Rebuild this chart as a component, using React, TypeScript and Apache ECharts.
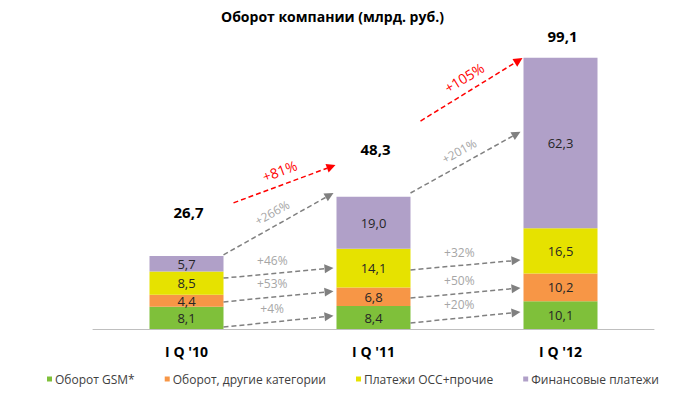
import React, { useEffect, useRef } from "react";
import * as echarts from "echarts";

const categories = ["I Q '10", "I Q '11", "I Q '12"];
const seriesNames = ["Оборот GSM*", "Оборот, другие категории", "Платежи ОСС+прочие", "Финансовые платежи"];
const gsmValues = [8.1, 8.4, 10.1];
const otherValues = [4.4, 6.8, 10.2];
const occValues = [8.5, 14.1, 16.5];
const financeValues = [5.7, 19.0, 62.3];
const seriesColors = ["#7fc03a", "#f79646", "#e6e200", "#b0a0c8"];

const arrowLabels = ["+4%", "+53%", "+46%", "+266%", "+81%", "+20%", "+50%", "+32%", "+201%", "+105%"];
const arrowFromCategory = [0, 0, 0, 0, 0, 1, 1, 1, 1, 1];
const arrowStartValues = [0.7, 9.9, 18.6, 27.1, 46.1, 2.2, 11.3, 21.6, 49.7, 76.0];
const arrowEndValues = [4.8, 13.8, 22.3, 49.7, 59.9, 6.2, 15.0, 25.2, 72.1, 99.0];
const arrowIsTotal = [false, false, false, false, true, false, false, false, false, true];

const FONT = "'Open Sans', 'Noto Sans', sans-serif";

export default function App() {
  const ref = useRef<HTMLDivElement>(null);
  useEffect(() => {
    document.body.style.margin = "0";
    if (!ref.current) return;
    const chart = echarts.init(ref.current, null, { renderer: "svg" });
    const valueSets = [gsmValues, otherValues, occValues, financeValues];
    const totals = categories.map((_, i) => valueSets.reduce((s, arr) => s + arr[i], 0));
    const totalLift = [44, 48, 22];
    const fmt = (v: number) => v.toFixed(1).replace(".", ",");

    const barSeries = valueSets.map((vals, k) => ({
      name: seriesNames[k],
      type: "bar",
      stack: "total",
      barWidth: 74,
      data: vals,
      itemStyle: { color: seriesColors[k] },
      label: {
        show: true,
        position: "inside",
        formatter: (p: any) => fmt(p.value),
        color: "#262626",
        fontSize: 13,
        lineHeight: 12,
        fontFamily: FONT,
      },
    }));

    const arrowData = arrowLabels.map((_, i) => [arrowFromCategory[i], arrowStartValues[i], arrowEndValues[i]]);

    const option: any = {
      animation: false,
      title: {
        text: "Оборот компании (млрд. руб.)",
        left: 216,
        top: 4,
        textStyle: { fontSize: 14, fontWeight: "bold", color: "#000", fontFamily: FONT },
      },
      legend: {
        data: seriesNames,
        left: 42,
        top: 368,
        icon: "rect",
        itemWidth: 5,
        itemHeight: 5,
        itemGap: 30,
        textStyle: { fontSize: 12, color: "#404040", fontFamily: FONT, padding: [0, 0, 0, -2] },
      },
      grid: { left: 93, right: 31, top: 28, bottom: 65 },
      xAxis: {
        type: "category",
        data: categories,
        axisLine: { lineStyle: { color: "#bfbfbf" } },
        axisTick: { lineStyle: { color: "#bfbfbf" }, length: 6 },
        axisLabel: { fontSize: 14, fontWeight: "bold", color: "#000", fontFamily: FONT, margin: 15 },
      },
      yAxis: { type: "value", min: 0, max: 110, show: false },
      series: [
        ...barSeries,
        {
          type: "custom",
          name: "totals",
          z: 5,
          data: totals.map((t, i) => [i, t]),
          renderItem: (params: any, api: any) => {
            const p = api.coord([api.value(0), api.value(1)]);
            return {
              type: "text",
              x: p[0] + 2,
              y: p[1] - totalLift[params.dataIndex],
              style: {
                text: fmt(api.value(1)),
                fill: "#000",
                fontSize: 15,
                fontWeight: "bold",
                fontFamily: FONT,
                align: "center",
                verticalAlign: "middle",
              },
            };
          },
        },
        {
          type: "custom",
          name: "arrows",
          z: 6,
          data: arrowData,
          renderItem: (params: any, api: any) => {
            const i = params.dataIndex;
            const cat = api.value(0);
            const red = arrowIsTotal[i];
            const s = api.coord([cat, api.value(1)]);
            const e = api.coord([cat + 1, api.value(2)]);
            const x1 = s[0] + (red ? 47 : 37);
            const y1 = s[1];
            const x2 = e[0] - (red ? 38 : 40);
            const y2 = e[1];
            const dx = x2 - x1;
            const dy = y2 - y1;
            const len = Math.sqrt(dx * dx + dy * dy);
            const ux = dx / len;
            const uy = dy / len;
            const headLen = 9;
            const headW = 4.5;
            const bx = x2 - ux * headLen;
            const by = y2 - uy * headLen;
            const color = red ? "#ff0000" : "#808080";
            const ang = Math.atan2(-dy, dx);
            const mx = (x1 + x2) / 2;
            const my = (y1 + y2) / 2;
            const off = red ? 14 : 13;
            let px = uy;
            let py = -ux;
            if (py > 0) {
              px = -px;
              py = -py;
            }
            const flat = Math.abs(ang) < 0.2;
            return {
              type: "group",
              children: [
                {
                  type: "line",
                  shape: { x1, y1, x2: bx, y2: by },
                  style: { stroke: color, lineWidth: 1.5, lineDash: [5, 3] },
                },
                {
                  type: "polygon",
                  shape: {
                    points: [
                      [x2, y2],
                      [bx - uy * headW, by + ux * headW],
                      [bx + uy * headW, by - ux * headW],
                    ],
                  },
                  style: { fill: color },
                },
                {
                  type: "text",
                  x: mx + px * off - (flat ? 5 : 0),
                  y: my + py * off,
                  rotation: flat ? 0 : ang,
                  style: {
                    text: arrowLabels[i],
                    fill: red ? "#ff0000" : "#a6a6a6",
                    fontSize: red ? 14 : 12,
                    fontFamily: FONT,
                    align: "center",
                    verticalAlign: "middle",
                  },
                },
              ],
            };
          },
        },
      ],
    };
    chart.setOption(option);
    return () => chart.dispose();
  }, []);
  return <div ref={ref} style={{ width: 685, height: 394 }} />;
}
